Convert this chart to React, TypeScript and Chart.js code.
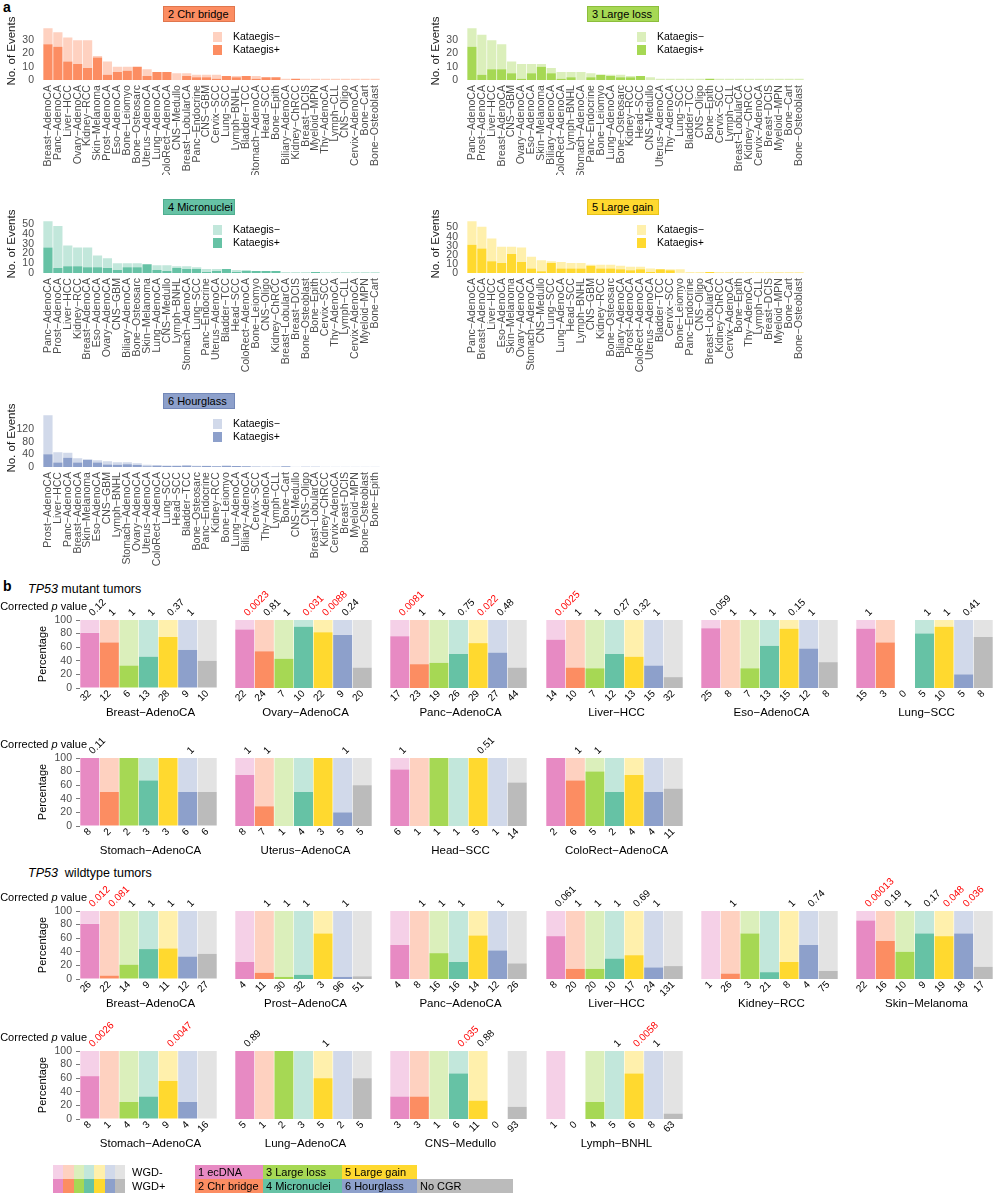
import React, { useEffect, useRef } from "react";
import { Chart, registerables } from "chart.js";

Chart.register(...registerables);

const FONT = "'Liberation Sans', Arial, Helvetica, sans-serif";
Chart.defaults.font.family = FONT;

// ---------------- Panel a data ----------------
const chrBridgeTypes = ["Breast−AdenoCA","Panc−AdenoCA","Liver−HCC","Ovary−AdenoCA","Kidney−RCC","Skin−Melanoma","Prost−AdenoCA","Eso−AdenoCA","Bone−Leiomyo","Bone−Osteosarc","Uterus−AdenoCA","Lung−AdenoCA","ColoRect−AdenoCA","CNS−Medullo","Breast−LobularCA","Panc−Endocrine","CNS−GBM","Cervix−SCC","Lung−SCC","Lymph−BNHL","Bladder−TCC","Stomach−AdenoCA","Head−SCC","Bone−Epith","Biliary−AdenoCA","Kidney−ChRCC","Breast−DCIS","Myeloid−MPN","Thy−AdenoCA","Lymph−CLL","CNS−Oligo","Cervix−AdenoCA","Bone−Cart","Bone−Osteoblast"];
const chrBridgeKatPos = [27,25,14,12,9,17,4,6,7,10,3,6,6,0,3,2,2,1,3,2,3,1,2,2,0,1,0,0,0,0,0,0,0,0];
const chrBridgeKatNeg = [12,11,18,18,21,1,10,4,3,0,5,0,0,5,2,2,2,3,0,1,0,2,0,0,1,0,1,1,1,1,1,1,1,1];
const chrBridgeTicks = [0,10,20,30];

const largeLossTypes = ["Panc−AdenoCA","Prost−AdenoCA","Liver−HCC","Breast−AdenoCA","CNS−GBM","Ovary−AdenoCA","Eso−AdenoCA","Skin−Melanoma","Biliary−AdenoCA","ColoRect−AdenoCA","Lymph−BNHL","Stomach−AdenoCA","Panc−Endocrine","Bone−Leiomyo","Lung−AdenoCA","Bone−Osteosarc","Kidney−RCC","Head−SCC","CNS−Medullo","Uterus−AdenoCA","Thy−AdenoCA","Lung−SCC","Bladder−TCC","CNS−Oligo","Bone−Epith","Cervix−SCC","Lymph−CLL","Breast−LobularCA","Kidney−ChRCC","Cervix−AdenoCA","Breast−DCIS","Myeloid−MPN","Bone−Cart","Bone−Osteoblast"];
const largeLossKatPos = [25,4,8,8,5,1,5,10,5,1,2,0,2,4,3,2,2,3,0,0,0,0,0,0,1,0,0,0,0,0,0,0,0,0];
const largeLossKatNeg = [14,30,22,19,9,11,7,2,4,5,4,6,3,0,1,2,1,0,2,1,1,1,1,1,0,1,1,1,1,1,1,1,1,1];
const largeLossTicks = [0,10,20,30];

const micronucleiTypes = ["Panc−AdenoCA","Prost−AdenoCA","Liver−HCC","Kidney−RCC","Breast−AdenoCA","Eso−AdenoCA","Ovary−AdenoCA","CNS−GBM","Biliary−AdenoCA","Bone−Osteosarc","Skin−Melanoma","Lung−AdenoCA","CNS−Medullo","Lymph−BNHL","Stomach−AdenoCA","Lung−SCC","Panc−Endocrine","Uterus−AdenoCA","Bladder−TCC","Head−SCC","ColoRect−AdenoCA","Bone−Leiomyo","CNS−Oligo","Kidney−ChRCC","Breast−LobularCA","Breast−DCIS","Bone−Osteoblast","Bone−Epith","Cervix−SCC","Thy−AdenoCA","Lymph−CLL","Cervix−AdenoCA","Myeloid−MPN","Bone−Cart"];
const micronucleiKatPos = [26,5,7,7,6,6,5,3,6,6,9,3,2,5,4,4,1,2,4,1,2,2,2,2,0,0,0,1,0,0,0,0,0,0];
const micronucleiKatNeg = [27,43,21,19,20,12,10,7,4,4,0,5,6,2,3,2,3,2,0,2,1,0,0,0,1,1,1,0,1,1,1,1,1,1];
const micronucleiTicks = [0,10,20,30,40,50];

const largeGainTypes = ["Panc−AdenoCA","Breast−AdenoCA","Liver−HCC","Eso−AdenoCA","Skin−Melanoma","Ovary−AdenoCA","Stomach−AdenoCA","CNS−Medullo","Lung−SCC","Lung−AdenoCA","Head−SCC","Lymph−BNHL","CNS−GBM","Kidney−RCC","Bone−Osteosarc","Biliary−AdenoCA","Prost−AdenoCA","ColoRect−AdenoCA","Uterus−AdenoCA","Bladder−TCC","Cervix−SCC","Bone−Leiomyo","Panc−Endocrine","CNS−Oligo","Breast−LobularCA","Kidney−ChRCC","Cervix−AdenoCA","Bone−Epith","Thy−AdenoCA","Lymph−CLL","Breast−DCIS","Myeloid−MPN","Bone−Cart","Bone−Osteoblast"];
const largeGainKatPos = [31,27,13,11,21,12,5,2,11,5,5,5,8,5,5,4,3,4,1,4,3,0,0,0,1,0,0,0,0,0,0,0,0,0];
const largeGainKatNeg = [26,24,25,18,8,16,13,12,2,7,6,6,1,4,4,4,4,3,4,0,1,4,1,1,0,1,1,1,1,1,1,1,1,1];
const largeGainTicks = [0,10,20,30,40,50];

const hourglassTypes = ["Prost−AdenoCA","Liver−HCC","Panc−AdenoCA","Breast−AdenoCA","Skin−Melanoma","Eso−AdenoCA","CNS−GBM","Lymph−BNHL","Stomach−AdenoCA","Ovary−AdenoCA","Uterus−AdenoCA","ColoRect−AdenoCA","Lung−SCC","Head−SCC","Bladder−TCC","Bone−Osteosarc","Panc−Endocrine","Kidney−RCC","Bone−Leiomyo","Lung−AdenoCA","Biliary−AdenoCA","Cervix−SCC","Thy−AdenoCA","Lymph−CLL","Bone−Cart","CNS−Medullo","CNS−Oligo","Breast−LobularCA","Kidney−ChRCC","Cervix−AdenoCA","Breast−DCIS","Myeloid−MPN","Bone−Osteoblast","Bone−Epith"];
const hourglassKatPos = [40,14,29,14,23,14,8,7,9,6,2,4,3,3,5,2,3,2,4,3,2,1,0,0,2,0,1,1,0,0,0,0,0,0];
const hourglassKatNeg = [124,33,16,14,1,7,10,8,6,6,5,2,2,2,0,2,1,1,0,0,1,1,2,2,0,1,0,0,1,1,1,1,1,1];
const hourglassTicks = [0,40,80,120];

// ---------------- Panel b data ----------------
const cgrClasses = ["1 ecDNA","2 Chr bridge","3 Large loss","4 Micronuclei","5 Large gain","6 Hourglass","No CGR"];
const percentTicks = [0,20,40,60,80,100];

const mutRow1Types = ["Breast−AdenoCA","Ovary−AdenoCA","Panc−AdenoCA","Liver−HCC","Eso−AdenoCA","Lung−SCC"];
const mutRow1Counts = [[32,12,6,13,28,9,10],[22,24,7,10,22,9,20],[17,23,19,26,29,27,44],[14,10,7,12,13,15,32],[25,8,7,13,15,12,8],[15,3,0,5,10,5,8]];
const mutRow1WgdPct = [[81,67,33,46,75,56,40],[86,54,43,90,82,78,30],[76,35,37,50,66,52,30],[71,30,29,50,46,33,16],[88,0,29,62,87,58,38],[87,67,0,80,90,20,75]];
const mutRow1P = [["0.12","1","1","1","0.37","1",""],["0.0023","0.81","1","0.031","0.0088","0.24",""],["0.0081","1","1","0.75","0.022","0.48",""],["0.0025","1","1","0.27","0.32","1",""],["0.059","1","1","1","0.15","1",""],["1","","","1","1","0.41",""]];

const mutRow2Types = ["Stomach−AdenoCA","Uterus−AdenoCA","Head−SCC","ColoRect−AdenoCA"];
const mutRow2Counts = [[8,2,2,3,3,6,6],[8,7,1,4,3,5,5],[6,1,1,1,5,1,14],[2,6,5,2,4,4,11]];
const mutRow2WgdPct = [[100,50,100,67,100,50,50],[75,29,0,50,100,20,60],[83,0,100,0,100,0,64],[100,67,80,50,75,50,55]];
const mutRow2P = [["0.11","","","","","1",""],["1","1","","","","1",""],["1","","","","0.51","",""],["","1","1","","","",""]];

const wtRow1Types = ["Breast−AdenoCA","Prost−AdenoCA","Panc−AdenoCA","Liver−HCC","Kidney−RCC","Skin−Melanoma"];
const wtRow1Counts = [[26,22,14,9,11,12,27],[4,11,30,32,3,96,51],[4,8,16,16,14,12,26],[8,20,20,10,17,24,131],[1,26,3,21,8,4,75],[22,16,10,9,19,18,17]];
const wtRow1WgdPct = [[81,5,21,44,45,33,37],[25,9,3,6,67,3,4],[50,0,38,25,64,42,23],[63,15,15,30,35,17,19],[0,8,67,10,25,50,12],[86,56,40,67,63,67,18]];
const wtRow1P = [["0.012","0.081","1","1","1","1",""],["","1","1","1","","1",""],["","1","1","1","","1",""],["0.061","1","1","1","0.69","1",""],["","1","","","1","0.74",""],["0.00013","0.19","1","0.17","0.048","0.036",""]];

const wtRow2Types = ["Stomach−AdenoCA","Lung−AdenoCA","CNS−Medullo","Lymph−BNHL"];
const wtRow2Counts = [[8,1,4,3,9,4,16],[5,1,2,3,5,2,5],[3,3,1,6,11,0,93],[1,0,4,5,6,8,63]];
const wtRow2WgdPct = [[63,0,25,33,56,25,0],[100,0,100,0,60,0,60],[33,33,0,67,27,0,18],[0,0,25,0,67,0,8]];
const wtRow2P = [["0.0026","","","","0.0047","",""],["0.89","","","","1","",""],["","","","0.035","0.88","",""],["","","","1","0.0058","1",""]];

const extraRedP = ["0.081"];

// ---------------- styling ----------------
const DARK = ["#E78AC3","#FC8D62","#A6D854","#66C2A5","#FFD92F","#8DA0CB","#BBBBBB"];
const LIGHT = ["#F5D0E7","#FED1C0","#DBEFBB","#C2E7DB","#FFF0AC","#D1D9EA","#E3E3E3"];
const EDGE = ["#D070AC","#E0764D","#8CBE3C","#4FAE8F","#E5C21A","#7388B8","#A5A5A5"];
const TICK_COLOR = "#4D4D4D";

const PLOT_H_A = 57;

function EventsChart(props: any) {
  const { left, top, width, height, cats, pos, neg, ticks, ci } = props;
  const ref = useRef<HTMLCanvasElement>(null);
  useEffect(() => {
    const totals = pos.map((v: number, i: number) => v + neg[i]);
    const maxTotal = Math.max(...totals);
    const K = PLOT_H_A / 1.1;
    const plotTop = 80 - 1.05 * K;
    const plotBottom = 80 + 0.05 * K;
    const chart = new Chart(ref.current as HTMLCanvasElement, {
      type: "bar",
      data: {
        labels: cats,
        datasets: [
          { label: "Kataegis+", data: pos, backgroundColor: DARK[ci], barPercentage: 0.93, categoryPercentage: 1 },
          { label: "Kataegis−", data: neg, backgroundColor: LIGHT[ci], barPercentage: 0.93, categoryPercentage: 1 },
        ],
      },
      options: {
        responsive: false,
        animation: false,
        events: [],
        layout: { padding: { top: plotTop, right: 20, left: 0, bottom: 0 } },
        plugins: { legend: { display: false }, tooltip: { enabled: false } },
        scales: {
          x: {
            stacked: true,
            grid: { display: false, drawTicks: false },
            border: { display: false },
            ticks: { autoSkip: false, minRotation: 90, maxRotation: 90, padding: 2.5, color: TICK_COLOR, font: { size: 10.5, family: FONT } },
            afterFit: (s: any) => { s.height = height - plotBottom; },
          },
          y: {
            stacked: true,
            min: -0.05 * maxTotal,
            max: 1.05 * maxTotal,
            grid: { display: false, drawTicks: false },
            border: { display: false },
            ticks: { autoSkip: false, padding: 9, color: TICK_COLOR, font: { size: 10.5, family: FONT } },
            afterBuildTicks: (s: any) => { s.ticks = ticks.map((v: number) => ({ value: v })); },
            afterFit: (s: any) => { s.width = 43; },
          },
        },
      } as any,
      plugins: [
        {
          id: "evTitle",
          afterDraw(c: any) {
            const { ctx, chartArea } = c;
            ctx.save();
            ctx.font = `11.5px ${FONT}`;
            ctx.fillStyle = "#1a1a1a";
            ctx.textAlign = "center";
            ctx.textBaseline = "middle";
            ctx.translate(12, (chartArea.top + chartArea.bottom) / 2 - 3);
            ctx.rotate(-Math.PI / 2);
            ctx.fillText("No. of Events", 0, 0);
            ctx.restore();
          },
        },
      ],
    });
    return () => chart.destroy();
  }, []);
  return (
    <canvas ref={ref} width={width} height={height}
      style={{ position: "absolute", left, top, width, height }} />
  );
}

function isRed(p: string) {
  return parseFloat(p) < 0.05 || extraRedP.includes(p);
}

function PctChart(props: any) {
  const { plotLeft, plotTop, name, counts, pct, pvals, first } = props;
  const ref = useRef<HTMLCanvasElement>(null);
  const W = 262, H = 158;
  const left = plotLeft - 80, top = plotTop - 45;
  useEffect(() => {
    const minus = pct.map((v: number, i: number) => (counts[i] > 0 ? 100 - v : 0));
    const plus = pct.map((v: number, i: number) => (counts[i] > 0 ? v : 0));
    const chart = new Chart(ref.current as HTMLCanvasElement, {
      type: "bar",
      data: {
        labels: cgrClasses,
        datasets: [
          { label: "WGD+", data: plus, backgroundColor: DARK, barPercentage: 0.97, categoryPercentage: 1 },
          { label: "WGD−", data: minus, backgroundColor: LIGHT, barPercentage: 0.97, categoryPercentage: 1 },
        ],
      },
      options: {
        responsive: false,
        animation: false,
        events: [],
        layout: { padding: { top: 45, right: 45, left: 0, bottom: 0 } },
        plugins: { legend: { display: false }, tooltip: { enabled: false } },
        scales: {
          x: {
            stacked: true,
            grid: { display: false, drawTicks: false },
            border: { display: false },
            ticks: { display: false },
            afterFit: (s: any) => { s.height = 45; },
          },
          y: {
            stacked: true,
            min: 0,
            max: 100,
            grid: { display: first, drawOnChartArea: false, drawTicks: true, tickLength: 4, color: "#7a7a7a" },
            border: { display: false },
            ticks: { display: first, autoSkip: false, padding: 4, color: TICK_COLOR, font: { size: 10.5, family: FONT } },
            afterBuildTicks: (s: any) => { s.ticks = percentTicks.map((v: number) => ({ value: v })); },
            afterFit: (s: any) => { s.width = 80; },
          },
        },
      } as any,
      plugins: [
        {
          id: "pctAnno",
          afterDraw(c: any) {
            const { ctx, chartArea: a, scales } = c;
            const xs = scales.x;
            ctx.save();
            ctx.font = `10px ${FONT}`;
            counts.forEach((n: number, i: number) => {
              const cx = xs.getPixelForValue(i);
              const p = pvals[i];
              if (p) {
                ctx.save();
                ctx.translate(cx + 3, a.top - 3.5);
                ctx.rotate(-Math.PI / 4);
                ctx.textAlign = "left";
                ctx.textBaseline = "alphabetic";
                ctx.fillStyle = isRed(p) ? "#FF0000" : "#000";
                ctx.fillText(p, 0, 0);
                ctx.restore();
              }
              ctx.save();
              ctx.translate(cx - 3.5, a.bottom + 0.5);
              ctx.rotate(-Math.PI / 4);
              ctx.textAlign = "right";
              ctx.textBaseline = "top";
              ctx.fillStyle = "#000";
              ctx.fillText(String(n), 0, 0);
              ctx.restore();
            });
            ctx.font = `11.5px ${FONT}`;
            ctx.fillStyle = "#000";
            ctx.textAlign = "center";
            ctx.textBaseline = "middle";
            ctx.fillText(name, (a.left + a.right) / 2 + 2, a.bottom + 24.5);
            if (first) {
              ctx.save();
              ctx.font = `11px ${FONT}`;
              ctx.translate(a.left - 37, (a.top + a.bottom) / 2);
              ctx.rotate(-Math.PI / 2);
              ctx.fillText("Percentage", 0, 0);
              ctx.restore();
              const parts = [["Corrected ", ""], ["p", "italic "], [" value", ""]];
              const widths = parts.map(([t, st]) => { ctx.font = `${st}11px ${FONT}`; return ctx.measureText(t).width; });
              const total = widths.reduce((s: number, w: number) => s + w, 0);
              let x = a.left + 7 - total;
              ctx.textAlign = "left";
              ctx.textBaseline = "alphabetic";
              parts.forEach(([t, st], k) => {
                ctx.font = `${st}11px ${FONT}`;
                ctx.fillText(t, x, a.top - 10);
                x += widths[k];
              });
            }
            ctx.restore();
          },
        },
      ],
    });
    return () => chart.destroy();
  }, []);
  return (
    <canvas ref={ref} width={W} height={H}
      style={{ position: "absolute", left, top, width: W, height: H }} />
  );
}

const A_COLS = [0, 424];
const A_ZERO = [80, 273, 467];
const A_HEIGHTS = [175, 181, 190];

const panelA = [
  { title: "2 Chr bridge", cats: chrBridgeTypes, pos: chrBridgeKatPos, neg: chrBridgeKatNeg, ticks: chrBridgeTicks, ci: 1, col: 0, row: 0 },
  { title: "3 Large loss", cats: largeLossTypes, pos: largeLossKatPos, neg: largeLossKatNeg, ticks: largeLossTicks, ci: 2, col: 1, row: 0 },
  { title: "4 Micronuclei", cats: micronucleiTypes, pos: micronucleiKatPos, neg: micronucleiKatNeg, ticks: micronucleiTicks, ci: 3, col: 0, row: 1 },
  { title: "5 Large gain", cats: largeGainTypes, pos: largeGainKatPos, neg: largeGainKatNeg, ticks: largeGainTicks, ci: 4, col: 1, row: 1 },
  { title: "6 Hourglass", cats: hourglassTypes, pos: hourglassKatPos, neg: hourglassKatNeg, ticks: hourglassTicks, ci: 5, col: 0, row: 2 },
];

const B_LEFTS = [80, 235, 390, 546, 701, 856];
const panelBRows = [
  { top: 620, types: mutRow1Types, counts: mutRow1Counts, pct: mutRow1WgdPct, p: mutRow1P },
  { top: 758, types: mutRow2Types, counts: mutRow2Counts, pct: mutRow2WgdPct, p: mutRow2P },
  { top: 911, types: wtRow1Types, counts: wtRow1Counts, pct: wtRow1WgdPct, p: wtRow1P },
  { top: 1051, types: wtRow2Types, counts: wtRow2Counts, pct: wtRow2WgdPct, p: wtRow2P },
];

const abs = (l: number, t: number, extra: any = {}) => ({ position: "absolute" as const, left: l, top: t, ...extra });

export default function App() {
  const legendBoxes = [
    { label: "1 ecDNA", ci: 0, x: 195, w: 68, row: 0 },
    { label: "3 Large loss", ci: 2, x: 263, w: 79, row: 0 },
    { label: "5 Large gain", ci: 4, x: 342, w: 75, row: 0 },
    { label: "2 Chr bridge", ci: 1, x: 195, w: 68, row: 1 },
    { label: "4 Micronuclei", ci: 3, x: 263, w: 79, row: 1 },
    { label: "6 Hourglass", ci: 5, x: 342, w: 75, row: 1 },
    { label: "No CGR", ci: 6, x: 417, w: 96, row: 1 },
  ];
  const LEG_Y = [1165, 1179];
  return (
    <div style={{ position: "absolute", left: 0, top: 0, width: 994, height: 1200, overflow: "hidden", background: "#fff", fontFamily: FONT, color: "#000" }}>
      <div style={abs(3, 0, { font: `bold 14px ${FONT}`, lineHeight: "14px" })}>a</div>
      {panelA.map((c, k) => {
        const col = A_COLS[c.col];
        const zero = A_ZERO[c.row];
        return (
          <React.Fragment key={k}>
            <EventsChart left={col} top={zero - 80} width={400} height={A_HEIGHTS[c.row]}
              cats={c.cats} pos={c.pos} neg={c.neg} ticks={c.ticks} ci={c.ci} />
            <div style={abs(col + 163, zero - 74, { width: 72, height: 16, boxSizing: "border-box", background: DARK[c.ci], border: `1px solid ${EDGE[c.ci]}`, font: `11px ${FONT}`, lineHeight: "14px", paddingLeft: 4, whiteSpace: "nowrap" })}>{c.title}</div>
            <div style={abs(col + 213, zero - 48, { width: 9, height: 10, background: LIGHT[c.ci] })} />
            <div style={abs(col + 213, zero - 35, { width: 9, height: 10, background: DARK[c.ci] })} />
            <div style={abs(col + 233, zero - 50, { font: `10.5px ${FONT}`, lineHeight: "13px", whiteSpace: "nowrap" })}>Kataegis−</div>
            <div style={abs(col + 233, zero - 37, { font: `10.5px ${FONT}`, lineHeight: "13px", whiteSpace: "nowrap" })}>Kataegis+</div>
          </React.Fragment>
        );
      })}

      <div style={abs(3, 579, { font: `bold 14px ${FONT}`, lineHeight: "14px" })}>b</div>
      <div style={abs(28, 583, { font: `12.5px ${FONT}`, lineHeight: "13px", whiteSpace: "nowrap" })}><i>TP53</i> mutant tumors</div>
      <div style={abs(28, 867, { font: `12.5px ${FONT}`, lineHeight: "13px", whiteSpace: "nowrap" })}><i>TP53</i>&nbsp; wildtype tumors</div>

      {panelBRows.map((r, ri) =>
        r.types.map((name, j) => (
          <PctChart key={`${ri}-${j}`} plotLeft={B_LEFTS[j]} plotTop={r.top} name={name}
            counts={r.counts[j]} pct={r.pct[j]} pvals={r.p[j]} first={j === 0} />
        ))
      )}

      {DARK.map((c, i) => (
        <React.Fragment key={`sw${i}`}>
          <div style={abs(53 + i * 10.3, LEG_Y[0], { width: 10.4, height: 14, background: LIGHT[i] })} />
          <div style={abs(53 + i * 10.3, LEG_Y[1], { width: 10.4, height: 14, background: c })} />
        </React.Fragment>
      ))}
      <div style={abs(132, LEG_Y[0], { font: `11px ${FONT}`, lineHeight: "14px" })}>WGD-</div>
      <div style={abs(132, LEG_Y[1], { font: `11px ${FONT}`, lineHeight: "14px" })}>WGD+</div>
      {legendBoxes.map((b, i) => (
        <div key={`lb${i}`} style={abs(b.x, LEG_Y[b.row], { width: b.w, height: 14, background: DARK[b.ci], font: `11px ${FONT}`, lineHeight: "14px", paddingLeft: 3, boxSizing: "border-box", whiteSpace: "nowrap" })}>{b.label}</div>
      ))}
    </div>
  );
}
